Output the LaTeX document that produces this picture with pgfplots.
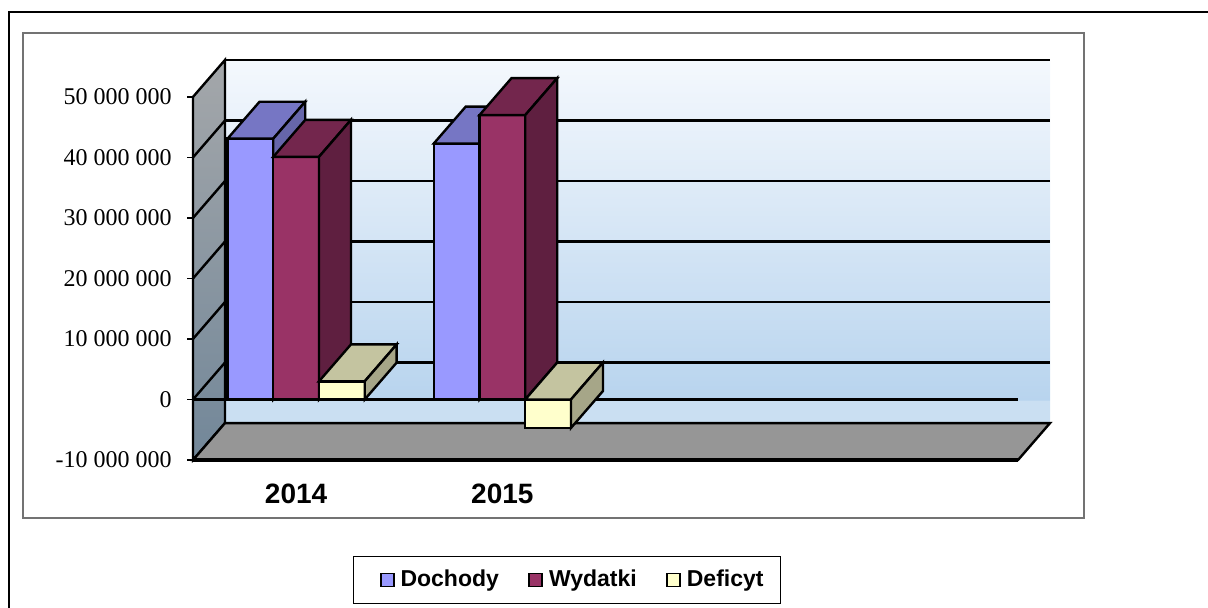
\documentclass[border=0pt]{standalone}
\usepackage{fontspec}
\setmainfont{Liberation Serif}
\newfontfamily\arialfont{Liberation Sans}
\usepackage{pgfplots}
\pgfplotsset{compat=1.18}
\definecolor{dochF}{RGB}{153,153,255}
\definecolor{dochT}{RGB}{118,118,196}
\definecolor{dochS}{RGB}{102,102,170}
\definecolor{wydF}{RGB}{153,51,102}
\definecolor{wydT}{RGB}{115,38,77}
\definecolor{wydS}{RGB}{95,31,64}
\definecolor{defF}{RGB}{255,255,204}
\definecolor{defT}{RGB}{196,196,160}
\definecolor{defS}{RGB}{166,166,136}
\definecolor{floorc}{RGB}{150,150,150}
\definecolor{wallT}{RGB}{244,248,253}
\definecolor{wallM}{RGB}{184,212,238}
\definecolor{wallL}{RGB}{202,223,242}
\definecolor{lwT}{RGB}{164,167,170}
\definecolor{lwB}{RGB}{114,135,153}
\pgfdeclareverticalshading{backwall}{100bp}{color(0bp)=(wallL); color(25bp)=(wallL); color(28.1bp)=(wallL); color(28.2bp)=(wallM); color(75bp)=(wallT); color(100bp)=(wallT)}
\begin{document}
\begin{tikzpicture}
\useasboundingbox (0,0) rectangle (604pt,304pt);
\draw[line width=1.3pt] (4.5pt,-10pt) -- (4.5pt,298pt) -- (620pt,298pt);
\draw[black!55, line width=0.6pt] (11.5pt,45pt) rectangle (542pt,287.5pt);
\begin{axis}[
  at={(96.5pt,74pt)}, anchor=south west,
  scale only axis, width=428.5pt, height=200pt,
  xmin=0.5, xmax=4.655, ymin=-10000000, ymax=56100000,
  clip=false,
  axis line style={draw=none},
  scaled y ticks=false,
  ytick={-10000000,0,10000000,20000000,30000000,40000000,50000000},
  yticklabels={-10 000 000,0,10 000 000,20 000 000,30 000 000,40 000 000,50 000 000},
  ytick pos=left, tick align=outside, major tick length=3pt,
  ytick style={black, line width=0.9pt},
  xtick={1,2}, xticklabels={2014,2015}, xtick style={draw=none},
  xticklabel style={font=\arialfont\bfseries\fontsize{14}{16}\selectfont, inner sep=0pt, yshift=-9pt},
  yticklabel style={font=\fontsize{12}{14}\selectfont, inner sep=0pt, xshift=-7.5pt},
  legend style={at={(0.4364,-0.30)}, anchor=center, draw=black, line width=0.6pt,
    legend columns=3, font=\arialfont\bfseries\fontsize{11.5}{13}\selectfont,
    inner xsep=8.5pt, inner ysep=7pt, nodes={inner sep=0pt},
    /tikz/every odd column/.append style={column sep=3pt},
    /tikz/every even column/.append style={column sep=10pt}},
  every axis plot/.append style={line width=1.2pt},
]
% back wall
\addplot[forget plot, draw=none, shade, shading=backwall] coordinates {(0.655,-3900000) (4.655,-3900000) (4.655,56100000) (0.655,56100000)} -- cycle;
% back wall gridlines
\addplot[forget plot, black] coordinates {(0.655,6100000) (4.655,6100000)};
\addplot[forget plot, black] coordinates {(0.655,16100000) (4.655,16100000)};
\addplot[forget plot, black] coordinates {(0.655,26100000) (4.655,26100000)};
\addplot[forget plot, black] coordinates {(0.655,36100000) (4.655,36100000)};
\addplot[forget plot, black] coordinates {(0.655,46100000) (4.655,46100000)};
\addplot[forget plot, black] coordinates {(0.655,56100000) (4.655,56100000)};
% left wall
\addplot[forget plot, draw=black, top color=lwT, bottom color=lwB] coordinates {(0.5,-10000000) (0.5,50000000) (0.655,56100000) (0.655,-3900000)} -- cycle;
\addplot[forget plot, black] coordinates {(0.5,0) (0.655,6100000)};
\addplot[forget plot, black] coordinates {(0.5,10000000) (0.655,16100000)};
\addplot[forget plot, black] coordinates {(0.5,20000000) (0.655,26100000)};
\addplot[forget plot, black] coordinates {(0.5,30000000) (0.655,36100000)};
\addplot[forget plot, black] coordinates {(0.5,40000000) (0.655,46100000)};
% floor
\addplot[forget plot, fill=floorc, draw=black] coordinates {(0.5,-10000000) (4.5,-10000000) (4.655,-3900000) (0.655,-3900000)} -- cycle;
\addplot[forget plot, black, line width=1.8pt] coordinates {(0.5,-10000000) (4.5,-10000000)};
% front zero line
\addplot[forget plot, black] coordinates {(0.5,0) (4.5,0)};
% Dochody
\addplot[forget plot, ybar, bar width=0.2217, bar shift=-0.2217, fill=dochF, draw=black] coordinates {(1,43100000) (2,42300000)};
\addplot[forget plot, fill=dochT, draw=black] coordinates {(0.66745,43100000) (0.88915,43100000) (1.04415,49200000) (0.82245,49200000)} -- cycle;
\addplot[forget plot, fill=dochS, draw=black] coordinates {(0.88915,0) (0.88915,43100000) (1.04415,49200000) (1.04415,6100000)} -- cycle;
\addplot[forget plot, fill=dochT, draw=black] coordinates {(1.66745,42300000) (1.88915,42300000) (2.04415,48400000) (1.82245,48400000)} -- cycle;
\addplot[forget plot, fill=dochS, draw=black] coordinates {(1.88915,0) (1.88915,42300000) (2.04415,48400000) (2.04415,6100000)} -- cycle;
% Wydatki
\addplot[forget plot, ybar, bar width=0.2217, bar shift=0, fill=wydF, draw=black] coordinates {(1,40100000) (2,47000000)};
\addplot[forget plot, fill=wydT, draw=black] coordinates {(0.88915,40100000) (1.11085,40100000) (1.26585,46200000) (1.04415,46200000)} -- cycle;
\addplot[forget plot, fill=wydS, draw=black] coordinates {(1.11085,0) (1.11085,40100000) (1.26585,46200000) (1.26585,6100000)} -- cycle;
\addplot[forget plot, fill=wydT, draw=black] coordinates {(1.88915,47000000) (2.11085,47000000) (2.26585,53100000) (2.04415,53100000)} -- cycle;
\addplot[forget plot, fill=wydS, draw=black] coordinates {(2.11085,0) (2.11085,47000000) (2.26585,53100000) (2.26585,6100000)} -- cycle;
% Deficyt
\addplot[forget plot, ybar, bar width=0.2217, bar shift=0.2217, fill=defF, draw=black] coordinates {(1,3000000) (2,-4700000)};
\addplot[forget plot, fill=defT, draw=black] coordinates {(1.11085,3000000) (1.33255,3000000) (1.48755,9100000) (1.26585,9100000)} -- cycle;
\addplot[forget plot, fill=defS, draw=black] coordinates {(1.33255,0) (1.33255,3000000) (1.48755,9100000) (1.48755,6100000)} -- cycle;
\addplot[forget plot, fill=defT, draw=black] coordinates {(2.11085,0) (2.33255,0) (2.48755,6100000) (2.26585,6100000)} -- cycle;
\addplot[forget plot, fill=defS, draw=black] coordinates {(2.33255,-4700000) (2.33255,0) (2.48755,6100000) (2.48755,1400000)} -- cycle;
% legend
\addlegendimage{legend image code/.code={\path (-4.5pt,0pt); \draw[fill=dochF,draw=black,line width=0.9pt] (0pt,-3.25pt) rectangle (6.5pt,3.25pt);}}
\addlegendentry{Dochody}
\addlegendimage{legend image code/.code={\path (-4.5pt,0pt); \draw[fill=wydF,draw=black,line width=0.9pt] (0pt,-3.25pt) rectangle (6.5pt,3.25pt);}}
\addlegendentry{Wydatki}
\addlegendimage{legend image code/.code={\path (-4.5pt,0pt); \draw[fill=defF,draw=black,line width=0.9pt] (0pt,-3.25pt) rectangle (6.5pt,3.25pt);}}
\addlegendentry{Deficyt}
\end{axis}
\end{tikzpicture}
\end{document}
